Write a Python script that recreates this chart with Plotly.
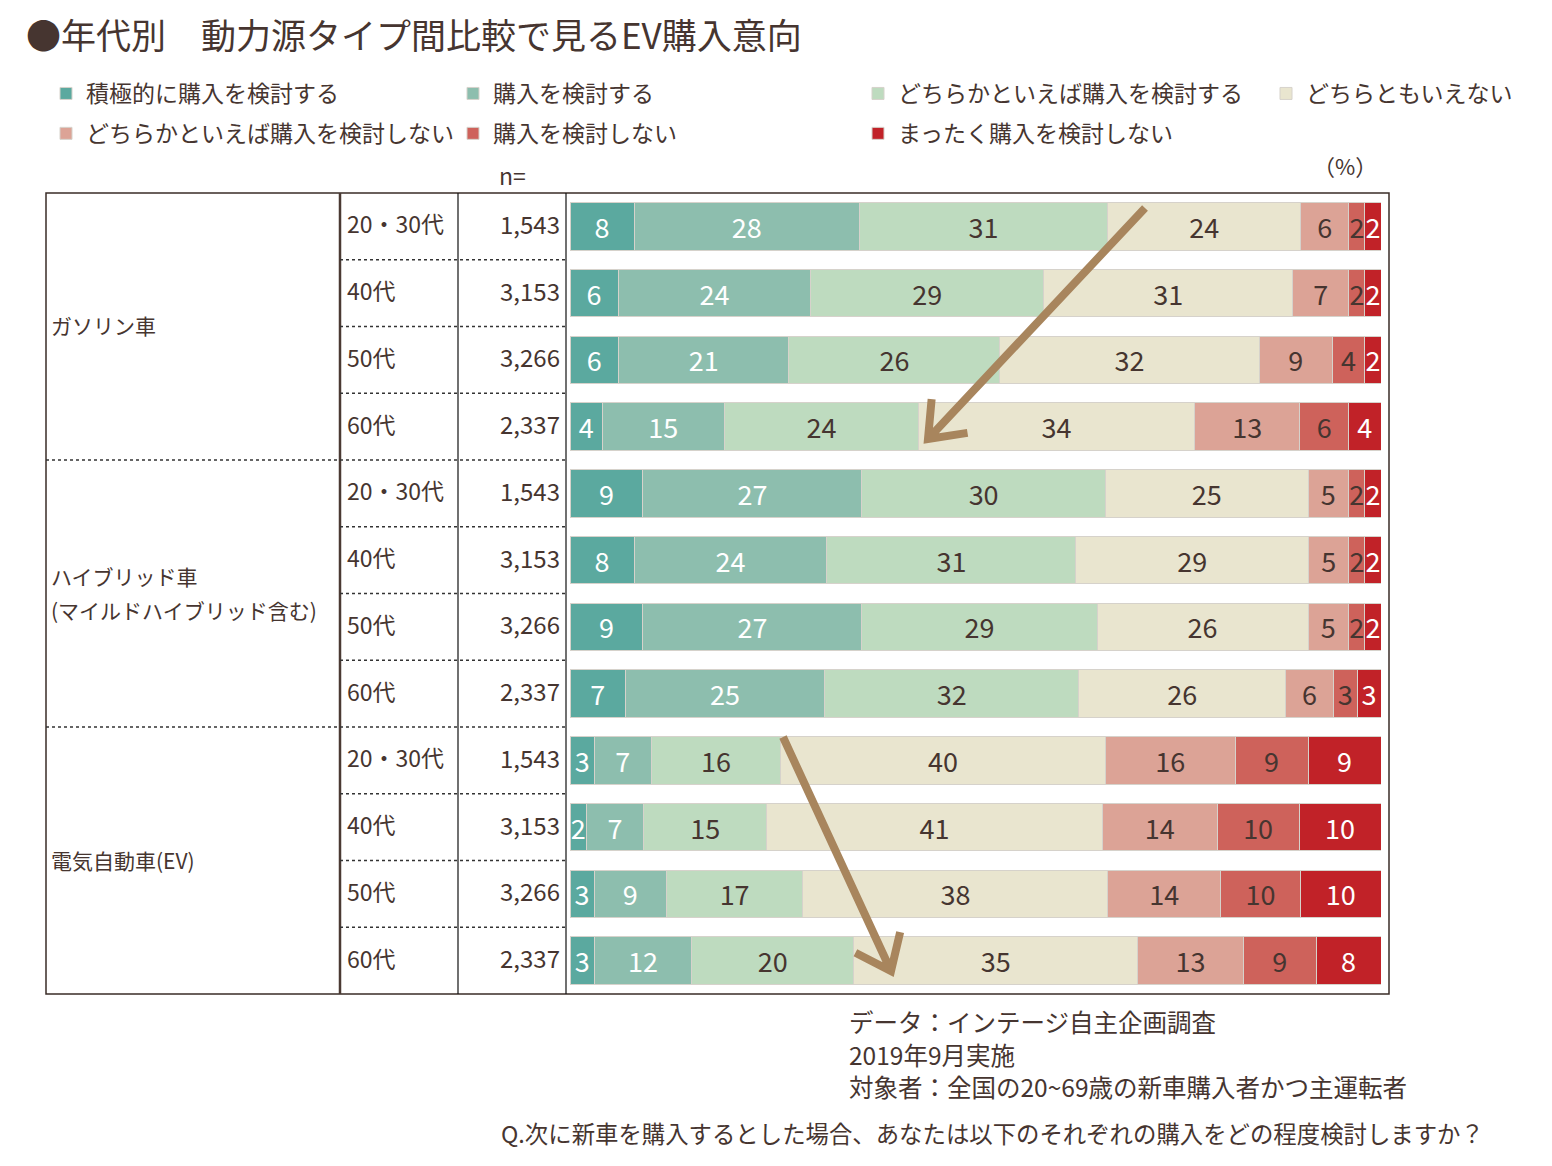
import math
import plotly.graph_objects as go

# ---------------- data ----------------
groups = ["ガソリン車", "ハイブリッド車\n(マイルドハイブリッド含む)", "電気自動車(EV)"]
ages = ["20・30代", "40代", "50代", "60代"]
n_values = [1543, 3153, 3266, 2337]

series_names = [
    "積極的に購入を検討する",
    "購入を検討する",
    "どちらかといえば購入を検討する",
    "どちらともいえない",
    "どちらかといえば購入を検討しない",
    "購入を検討しない",
    "まったく購入を検討しない",
]

# rows: gasoline (20-30,40,50,60), hybrid (...), EV (...)
s1_active = [8, 6, 6, 4, 9, 8, 9, 7, 3, 2, 3, 3]
s2_consider = [28, 24, 21, 15, 27, 24, 27, 25, 7, 7, 9, 12]
s3_lean_consider = [31, 29, 26, 24, 30, 31, 29, 32, 16, 15, 17, 20]
s4_neutral = [24, 31, 32, 34, 25, 29, 26, 26, 40, 41, 38, 35]
s5_lean_not = [6, 7, 9, 13, 5, 5, 5, 6, 16, 14, 14, 13]
s6_not = [2, 2, 4, 6, 2, 2, 2, 3, 9, 10, 10, 9]
s7_never = [2, 2, 2, 4, 2, 2, 2, 3, 9, 10, 10, 8]
series_values = [s1_active, s2_consider, s3_lean_consider, s4_neutral,
                 s5_lean_not, s6_not, s7_never]

# ---------------- styles ----------------
W, H = 1552, 1166
colors = ["#5BA99F", "#8DBEAE", "#BEDBBF", "#E9E5CF", "#DCA396", "#CE625B", "#C12228"]
text_colors = ["white", "white", "#463530", "#463530", "#463530", "#463530", "white"]
DARK = "#463530"
FONT = "Noto Sans CJK JP"

row_labels = [f"{g}|{a}" for g in groups for a in ages]

TABLE_TOP, TABLE_BOT = 193, 994
TABLE_L, TABLE_R = 46, 1389
ROW_H = (TABLE_BOT - TABLE_TOP) / 12


def px(x):
    return x / W


def py(y):
    return 1 - y / H


legend_of = ["legend", "legend2", "legend3", "legend4", "legend", "legend2", "legend3"]

fig = go.Figure()
for i, (name, vals) in enumerate(zip(series_names, series_values)):
    fig.add_trace(go.Bar(
        name=name,
        x=vals,
        y=row_labels,
        orientation="h",
        marker=dict(color=colors[i], line=dict(color="#D6D2CB", width=1)),
        text=[str(v) for v in vals],
        textposition="inside",
        insidetextanchor="middle",
        textangle=0,
        textfont=dict(family=FONT, size=27, color=text_colors[i]),
        legend=legend_of[i],
        legendgroup=name,
        hoverinfo="skip",
    ))

fig.update_layout(
    width=W, height=H,
    margin=dict(l=0, r=0, t=0, b=0),
    paper_bgcolor="white", plot_bgcolor="white",
    barmode="stack", barnorm="percent", bargap=0.29,
    uniformtext=dict(minsize=27, mode="show"),
    font=dict(family=FONT, color=DARK),
    xaxis=dict(domain=[px(570), px(1381)], range=[0, 100], visible=False, fixedrange=True),
    yaxis=dict(domain=[py(TABLE_BOT), py(TABLE_TOP)], type="category",
               categoryorder="array", categoryarray=row_labels,
               range=[11.5, -0.5], visible=False),
    title=dict(text="●年代別　動力源タイプ間比較で見るEV購入意向",
               x=px(26), xanchor="left", xref="paper",
               y=py(37), yanchor="middle", yref="container",
               font=dict(family=FONT, size=35, color=DARK)),
)

legend_x = [46, 453, 858, 1266]
for k, lx in enumerate(legend_x):
    key = "legend" if k == 0 else f"legend{k+1}"
    fig.update_layout({key: dict(
        x=px(lx), xanchor="left", y=py(72), yanchor="top",
        orientation="v", traceorder="grouped", tracegroupgap=7,
        bgcolor="rgba(0,0,0,0)", borderwidth=0,
        font=dict(family=FONT, size=23, color=DARK),
        itemclick=False, itemdoubleclick=False,
    )})

shapes = []
# outer frame
shapes.append(dict(type="rect", xref="paper", yref="paper",
                   x0=px(TABLE_L), x1=px(TABLE_R), y0=py(TABLE_BOT), y1=py(TABLE_TOP),
                   line=dict(color="#3A2C27", width=1.5), layer="below"))
# vertical column separators
for xv, wv, cv in [(340, 2.5, "#4A3A33"), (458, 1.2, "#111111"), (566, 1.2, "#111111")]:
    shapes.append(dict(type="line", xref="paper", yref="paper",
                       x0=px(xv), x1=px(xv), y0=py(TABLE_TOP), y1=py(TABLE_BOT),
                       line=dict(color=cv, width=wv), layer="below"))
# dotted row separators
for i in range(1, 12):
    yy = TABLE_TOP + ROW_H * i
    x0 = TABLE_L if i % 4 == 0 else 340
    shapes.append(dict(type="line", xref="paper", yref="paper",
                       x0=px(x0), x1=px(566), y0=py(yy), y1=py(yy),
                       line=dict(color="#333333", width=1.3, dash="dot"), layer="below"))


# brown trend arrows
def arrow(tail, tip, arm=40, ang=38):
    dx, dy = tail[0] - tip[0], tail[1] - tip[1]
    L = math.hypot(dx, dy)
    ux, uy = dx / L, dy / L
    pts = []
    for s in (1, -1):
        a = math.radians(ang) * s
        rx = ux * math.cos(a) - uy * math.sin(a)
        ry = ux * math.sin(a) + uy * math.cos(a)
        pts.append((tip[0] + rx * arm, tip[1] + ry * arm))
    path = (f"M{px(tail[0])},{py(tail[1])} L{px(tip[0])},{py(tip[1])} "
            f"M{px(pts[0][0])},{py(pts[0][1])} L{px(tip[0])},{py(tip[1])} "
            f"L{px(pts[1][0])},{py(pts[1][1])}")
    return dict(type="path", xref="paper", yref="paper", path=path,
                line=dict(color="#A8855D", width=8), layer="above")


shapes.append(arrow((1145, 208), (928, 439)))
shapes.append(arrow((783, 737), (891, 971)))
fig.update_layout(shapes=shapes)

ann = []
# group labels (each line as its own text)
for gi, g in enumerate(groups):
    lines = g.split("\n")
    yc = TABLE_TOP + ROW_H * (gi * 4 + 2) - 1
    step = 34
    y0 = yc - step * (len(lines) - 1) / 2
    for li, line in enumerate(lines):
        ann.append(dict(text=line, x=px(49), y=py(y0 + li * step), xref="paper", yref="paper",
                        xanchor="left", yanchor="middle", showarrow=False, align="left",
                        font=dict(size=21, color=DARK, family=FONT)))
# age + n labels
for r in range(12):
    yc = TABLE_TOP + ROW_H * (r + 0.5) - 3
    ann.append(dict(text=ages[r % 4], x=px(345), y=py(yc), xref="paper", yref="paper",
                    xanchor="left", yanchor="middle", showarrow=False,
                    font=dict(size=23, color=DARK, family=FONT)))
    ann.append(dict(text=f"{n_values[r % 4]:,}", x=px(562), y=py(yc), xref="paper", yref="paper",
                    xanchor="right", yanchor="middle", showarrow=False,
                    font=dict(size=24, color=DARK, family=FONT)))
ann.append(dict(text="n=", x=px(512), y=py(175), xref="paper", yref="paper",
                xanchor="center", yanchor="middle", showarrow=False,
                font=dict(size=23, color=DARK, family=FONT)))
ann.append(dict(text="（%）", x=px(1345), y=py(165), xref="paper", yref="paper",
                xanchor="center", yanchor="middle", showarrow=False,
                font=dict(size=22, color=DARK, family=FONT)))
# footnotes
for t, yy in [("データ：インテージ自主企画調査", 1021),
              ("2019年9月実施", 1054),
              ("対象者：全国の20~69歳の新車購入者かつ主運転者", 1086)]:
    ann.append(dict(text=t, x=px(847), y=py(yy), xref="paper", yref="paper",
                    xanchor="left", yanchor="middle", showarrow=False,
                    font=dict(size=24.5, color=DARK, family=FONT)))
ann.append(dict(text="Q.次に新車を購入するとした場合、あなたは以下のそれぞれの購入をどの程度検討しますか？",
                x=px(1486), y=py(1133), xref="paper", yref="paper",
                xanchor="right", yanchor="middle", showarrow=False,
                font=dict(size=23.4, color=DARK, family=FONT)))
fig.update_layout(annotations=ann)

fig.write_html("out.html")
